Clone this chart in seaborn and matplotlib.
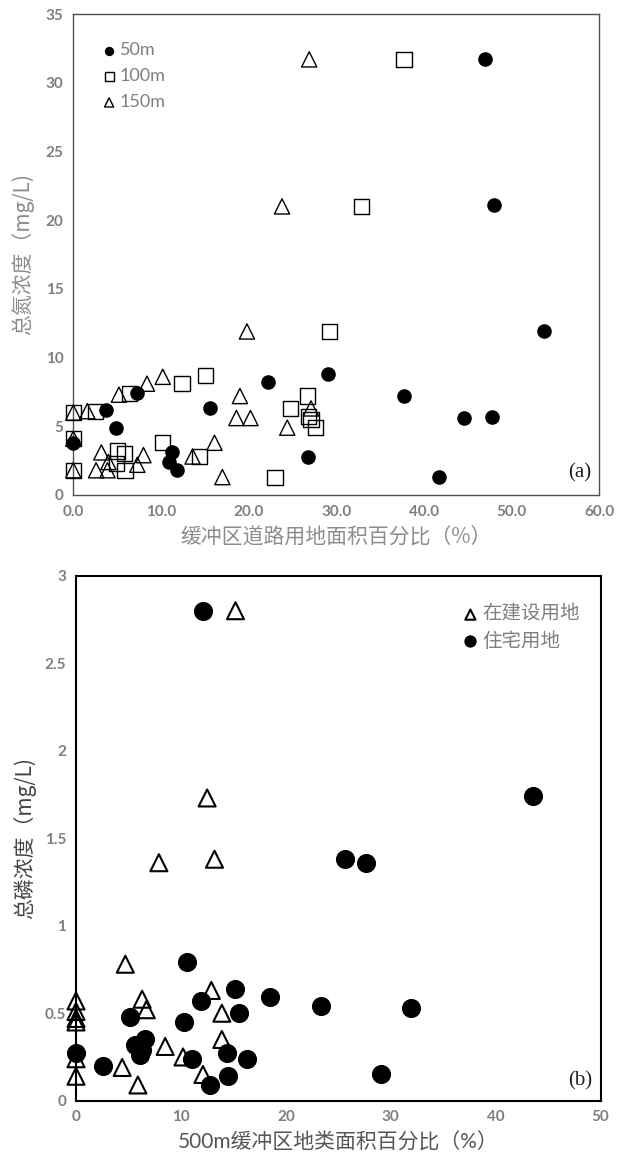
import numpy as np
import pandas as pd
import seaborn as sns
import matplotlib.pyplot as plt

# (a) 总氮浓度 vs 缓冲区道路用地面积百分比
x_50m = [47.0, 48.0, 53.7, 22.2, 29.0, 7.3, 3.7, 15.6, 37.7, 44.5, 47.7, 41.7,
         4.9, 0.0, 11.3, 10.9, 11.8, 26.8]
y_50m = [31.7, 21.1, 11.9, 8.2, 8.8, 7.4, 6.2, 6.3, 7.2, 5.6, 5.7, 1.3,
         4.9, 3.8, 3.1, 2.4, 1.8, 2.8]

x_100m = [37.7, 32.9, 29.2, 15.1, 12.4, 6.4, 2.5, 0.0, 26.7, 24.8, 26.8, 27.1,
          27.6, 0.0, 10.2, 5.0, 5.8, 4.9, 5.9, 14.4, 23.0, 0.0]
y_100m = [31.7, 21.0, 11.9, 8.7, 8.1, 7.4, 6.1, 6.0, 7.2, 6.3, 5.7, 5.5,
          4.9, 4.1, 3.8, 3.2, 3.0, 2.3, 1.8, 2.8, 1.3, 1.8]

x_150m = [26.9, 23.8, 19.8, 10.2, 8.4, 5.2, 19.0, 0.0, 1.6, 18.6, 20.2, 24.4,
          27.1, 0.0, 3.2, 4.0, 2.6, 3.9, 0.0, 8.0, 7.3, 13.6, 16.1, 17.0]
y_150m = [31.7, 21.0, 11.9, 8.6, 8.1, 7.3, 7.2, 6.0, 6.1, 5.6, 5.6, 4.9,
          6.3, 4.1, 3.1, 2.4, 1.8, 1.8, 1.8, 2.9, 2.2, 2.8, 3.8, 1.3]

# (b) 总磷浓度 vs 500m缓冲区地类面积百分比
x_build = [15.2, 12.5, 7.9, 13.2, 4.7, 12.9, 6.3, 6.7, 13.9, 0.0, 0.0, 0.0,
           0.0, 0.0, 0.0, 8.5, 13.9, 10.2, 4.4, 12.1, 5.9]
y_build = [2.80, 1.73, 1.36, 1.38, 0.78, 0.63, 0.58, 0.52, 0.50, 0.57, 0.51, 0.47,
           0.45, 0.24, 0.14, 0.31, 0.35, 0.25, 0.19, 0.15, 0.09]

x_house = [12.1, 25.6, 27.6, 43.6, 10.6, 15.2, 18.5, 11.9, 23.4, 31.9, 15.5, 5.1,
           10.3, 6.6, 5.6, 6.3, 6.1, 0.0, 2.6, 11.1, 14.4, 16.3, 14.5, 12.8, 29.1]
y_house = [2.80, 1.38, 1.36, 1.74, 0.79, 0.64, 0.59, 0.57, 0.54, 0.53, 0.50, 0.48,
           0.45, 0.35, 0.32, 0.29, 0.26, 0.27, 0.20, 0.24, 0.27, 0.24, 0.14, 0.09, 0.15]

sns.set_theme(style="white")
plt.rcParams['font.family'] = ['Lato', 'Noto Sans CJK SC', 'DejaVu Sans']
cjk = ['Noto Sans CJK SC', 'DejaVu Sans']
tick_grey = '#7f7f7f'

fig = plt.figure(figsize=(6.17, 11.68), dpi=100)
ax1 = fig.add_axes([0.1188, 0.5762, 0.8528, 0.4118])
ax2 = fig.add_axes([0.1232, 0.0576, 0.8501, 0.4495])

# ---- panel (a)
groups_a = [("50m", x_50m, y_50m, "o", "black", 90),
            ("100m", x_100m, y_100m, "s", "none", 120),
            ("150m", x_150m, y_150m, "^", "none", 120)]
for lab, xs, ys, m, fc, s in groups_a:
    d = pd.DataFrame({"x": xs, "y": ys})
    sns.scatterplot(data=d, x="x", y="y", marker=m, color=fc, edgecolor="black",
                    linewidth=1.0, s=s, clip_on=False, label=lab, ax=ax1, zorder=3)

ax1.set_xlim(0, 60)
ax1.set_ylim(0, 35)
ax1.set_xticks(np.arange(0, 61, 10))
ax1.set_xticklabels([f"{v:.1f}" for v in np.arange(0, 61, 10)])
ax1.set_yticks(np.arange(0, 36, 5))
ax1.set_xlabel("缓冲区道路用地面积百分比（%）", family=cjk, fontsize=15,
               color='#8c8c8c', labelpad=6)
ax1.set_ylabel("总氮浓度（mg/L)", family=cjk, fontsize=15, color='#8c8c8c', labelpad=8)
ax1.legend(loc='upper left', bbox_to_anchor=(0.02, 0.975), frameon=False,
           markerscale=0.6, labelcolor='#7f7f7f', fontsize=13,
           handletextpad=0.1, labelspacing=0.55, handlelength=1.0)
ax1.text(0.985, 0.025, "(a)", transform=ax1.transAxes, ha='right', va='bottom',
         family='Liberation Serif', fontsize=15, color='#222222')
for sp in ax1.spines.values():
    sp.set_color('#505050')
    sp.set_linewidth(1.0)

# ---- panel (b)
groups_b = [("在建设用地", x_build, y_build, "^", "none", 150),
            ("住宅用地", x_house, y_house, "o", "black", 150)]
for lab, xs, ys, m, fc, s in groups_b:
    d = pd.DataFrame({"x": xs, "y": ys})
    sns.scatterplot(data=d, x="x", y="y", marker=m, color=fc, edgecolor="black",
                    linewidth=1.5, s=s, clip_on=False, label=lab, ax=ax2, zorder=3)

ax2.set_xlim(0, 50)
ax2.set_ylim(0, 3)
ax2.set_xticks(np.arange(0, 51, 10))
ax2.set_yticks([0, 0.5, 1, 1.5, 2, 2.5, 3])
ax2.set_yticklabels(["0", "0.5", "1", "1.5", "2", "2.5", "3"])
ax2.set_xlabel("500m缓冲区地类面积百分比（%）", family=['Lato', 'Noto Sans CJK SC'],
               fontsize=15, color='#555555', labelpad=6)
ax2.set_ylabel("总磷浓度（mg/L)", family=cjk, fontsize=15, color='#444444', labelpad=6)
leg = ax2.legend(loc='upper left', bbox_to_anchor=(0.70, 0.98), frameon=False,
                 markerscale=0.6, fontsize=14, handletextpad=0.1,
                 labelspacing=0.3, handlelength=1.0, prop={'family': cjk, 'size': 14})
for t in leg.get_texts():
    t.set_color('#7f7f7f')
ax2.text(0.985, 0.02, "(b)", transform=ax2.transAxes, ha='right', va='bottom',
         family='Liberation Serif', fontsize=15, color='#222222')
for sp in ax2.spines.values():
    sp.set_color('black')
    sp.set_linewidth(1.5)

for ax in (ax1, ax2):
    ax.tick_params(axis='both', direction='out', length=4, width=1,
                   colors='#505050', labelcolor=tick_grey, labelsize=11, pad=3)
    for lbl in ax.get_xticklabels() + ax.get_yticklabels():
        lbl.set_fontweight('bold')

fig.savefig("out.png", dpi=100)
